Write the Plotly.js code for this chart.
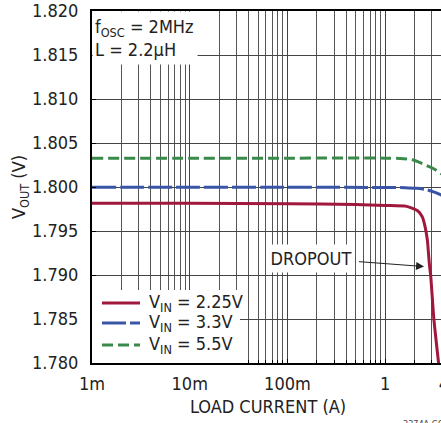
<!DOCTYPE html>
<html>
<head>
<meta charset="utf-8">
<script src="https://cdn.plot.ly/plotly-3.0.1.min.js"></script>
<style>
html, body { margin: 0; padding: 0; overflow: hidden; background: #fff; width: 441px; height: 423px; }
#chart { width: 450px; height: 423px; }
</style>
</head>
<body>
<div id="chart"></div>
<script>
// Data
const seriesNames = ["V<sub>IN</sub> = 2.25V", "V<sub>IN</sub> = 3.3V", "V<sub>IN</sub> = 5.5V"];

const loadRed  = [0.001, 0.01, 0.1, 0.5, 1.0, 1.66, 2.15, 2.40, 2.56, 2.70, 2.83, 2.92, 3.15, 3.52, 3.6];
const voutRed  = [1.79815, 1.79815, 1.7981, 1.7980, 1.7979, 1.7978, 1.7973, 1.7966, 1.7955, 1.7940, 1.7913, 1.7900, 1.7850, 1.7800, 1.7789];

const loadBlue = [0.001, 0.01, 0.1, 1, 1.6, 2.1, 2.65, 3.24, 3.73, 4];
const voutBlue = [1.79998, 1.79998, 1.79997, 1.79995, 1.79992, 1.79985, 1.7997, 1.7994, 1.7991, 1.7989];

const loadGreen = [0.001, 0.01, 0.1, 1, 1.42, 1.87, 2.46, 3.11, 3.65, 4];
const voutGreen = [1.80328, 1.80328, 1.80328, 1.80328, 1.80325, 1.80312, 1.8026, 1.8021, 1.8016, 1.8013];

const xTickVals = [0.001, 0.01, 0.1, 1, 4];
const xTickText = ["1m", "10m", "100m", "1", "4"];
const xMinorVals = [0.002,0.003,0.004,0.005,0.006,0.007,0.008,0.009,
                    0.02,0.03,0.04,0.05,0.06,0.07,0.08,0.09,
                    0.2,0.3,0.4,0.5,0.6,0.7,0.8,0.9,
                    2,3];

const yTickVals = [1.780, 1.785, 1.790, 1.795, 1.800, 1.805, 1.810, 1.815, 1.820];
const yTickText = yTickVals.map(v => v.toFixed(3));

const FONT = "'DejaVu Sans Condensed', 'Liberation Sans Narrow', 'Liberation Sans', sans-serif";
const colors = ["#a0183c", "#3a55a6", "#3a8a4c"];
const dashes = ["solid", "24px,4px", "11px,5px"];

const traces = [
  {x: loadRed, y: voutRed, name: seriesNames[0], mode: "lines", showlegend: false,
   line: {color: colors[0], width: 3, dash: dashes[0], shape: "spline", smoothing: 0.6}},
  {x: loadBlue, y: voutBlue, name: seriesNames[1], mode: "lines", showlegend: false,
   line: {color: colors[1], width: 3, dash: dashes[1], shape: "spline", smoothing: 0.6}},
  {x: loadGreen, y: voutGreen, name: seriesNames[2], mode: "lines", showlegend: false,
   line: {color: colors[2], width: 3, dash: dashes[2], shape: "spline", smoothing: 0.6}}
];

// Manual legend (key box in lower-left corner of plot)
const PW = 352, PH = 352; // plot area size in px
const legendRowsPx = [60, 40, 18]; // px above plot bottom
const shapes = [
  {type: "rect", xref: "paper", yref: "paper", x0: 0, x1: 148 / PW, y0: 0, y1: 73 / PH,
   fillcolor: "#fff", line: {width: 0}, layer: "above"}
];
const annotations = [];
seriesNames.forEach((name, i) => {
  const yy = legendRowsPx[i] / PH;
  shapes.push({type: "line", xref: "paper", yref: "paper", x0: 10 / PW, x1: 48 / PW, y0: yy, y1: yy,
               line: {color: colors[i], width: 3, dash: dashes[i]}, layer: "above"});
  annotations.push({xref: "paper", yref: "paper", x: 55 / PW, y: yy, xanchor: "left", yanchor: "middle",
                    text: name, showarrow: false, font: {family: FONT, size: 18, color: "#222"}});
});

annotations.push(
  {xref: "paper", yref: "paper", x: 0, y: 1, xanchor: "left", yanchor: "top",
   text: "f<sub>OSC</sub> = 2MHz<br>L = 2.2μH", align: "left", valign: "middle",
   showarrow: false, bgcolor: "#fff", width: 100, height: 48, borderpad: 2,
   font: {family: FONT, size: 18, color: "#222"}},
  {xref: "x", yref: "y", x: Math.log10(0.175), y: 1.79193, xanchor: "center", yanchor: "middle",
   text: "DROPOUT", showarrow: false, bgcolor: "#fff", width: 82, height: 27, borderpad: 0,
   font: {family: FONT, size: 18, color: "#222"}},
  {xref: "x", yref: "y", x: Math.log10(2.5), y: 1.79096,
   axref: "x", ayref: "y", ax: Math.log10(0.52), ay: 1.79153,
   text: "", showarrow: true, arrowhead: 2, arrowsize: 1.6, arrowwidth: 1, arrowcolor: "#222"},
  {xref: "paper", yref: "paper", x: 1, y: 0, xanchor: "right", yanchor: "top",
   yshift: -54, xshift: 6, text: "3374A G07", showarrow: false,
   font: {family: FONT, size: 9, color: "#444"}}
);

const layout = {
  width: 450, height: 423,
  margin: {l: 92, r: 6, t: 11, b: 60},
  paper_bgcolor: "#fff", plot_bgcolor: "#fff",
  font: {family: FONT, size: 18, color: "#222"},
  showlegend: false,
  xaxis: {
    type: "log", range: [Math.log10(0.001), Math.log10(4)],
    tickmode: "array", tickvals: xTickVals, ticktext: xTickText,
    showgrid: true, gridcolor: "#444", gridwidth: 1,
    minor: {tickvals: xMinorVals, showgrid: true, gridcolor: "#555", gridwidth: 1,
            ticks: "inside", ticklen: 3, tickcolor: "#000"},
    showline: true, linecolor: "#000", linewidth: 2, mirror: true,
    ticks: "inside", ticklen: 4, tickcolor: "#000",
    ticklabelstandoff: 3,
    zeroline: false,
    title: {text: "LOAD CURRENT (A)", font: {family: FONT, size: 18, color: "#222"}, standoff: 8}
  },
  yaxis: {
    range: [1.780, 1.820],
    tickmode: "array", tickvals: yTickVals, ticktext: yTickText,
    showgrid: true, gridcolor: "#444", gridwidth: 1,
    showline: true, linecolor: "#000", linewidth: 2, mirror: true,
    ticks: "inside", ticklen: 4, tickcolor: "#000",
    ticklabelstandoff: 8,
    zeroline: false,
    title: {text: "V<sub>OUT</sub> (V)", font: {family: FONT, size: 18, color: "#222"}, standoff: 1}
  },
  shapes: shapes,
  annotations: annotations
};

Plotly.newPlot("chart", traces, layout, {displayModeBar: false, staticPlot: true});
</script>
</body>
</html>
